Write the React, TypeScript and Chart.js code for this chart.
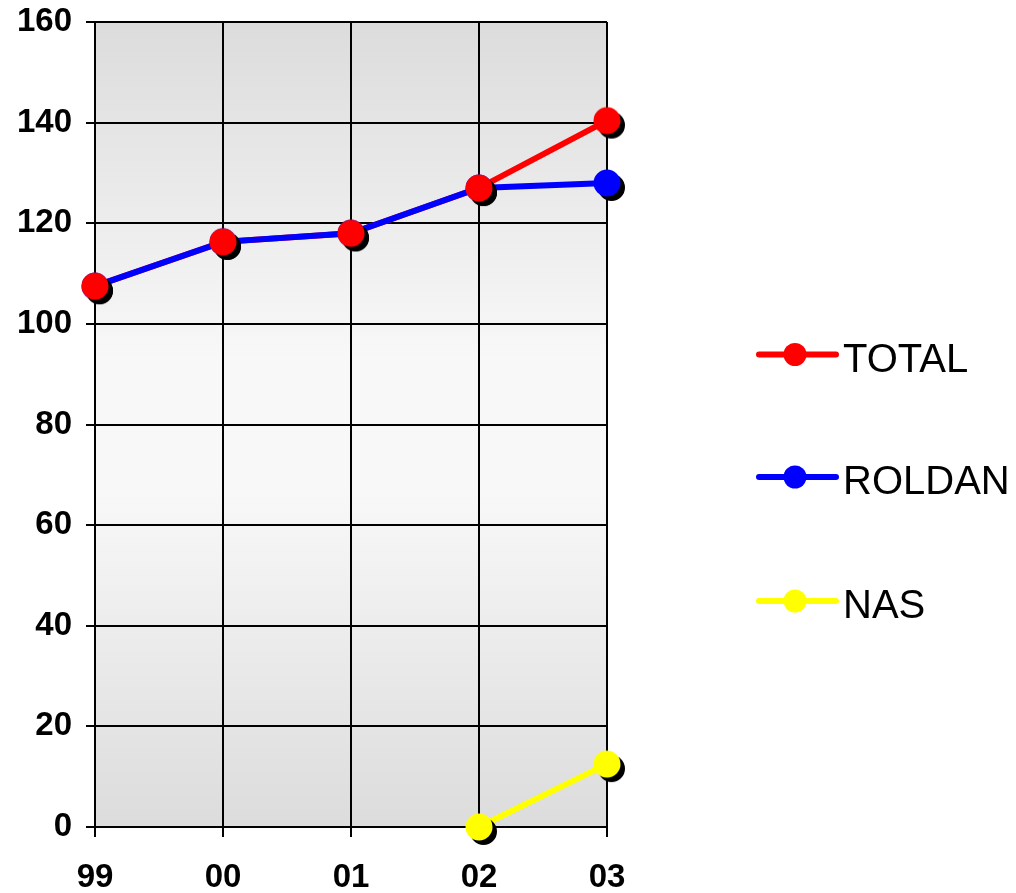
import { useEffect, useRef } from "react";
import { Chart, registerables } from "chart.js";

Chart.register(...registerables);

const years = ["99", "00", "01", "02", "03"];
const totalValues = [107.5, 116.3, 118, 127, 140.4];
const roldanValues = [107.5, 116.3, 118, 127, 128];
const nasValues: (number | null)[] = [null, null, null, 0, 12.5];
const yMin = 0;
const yMax = 160;
const yStep = 20;
const seriesNames = ["TOTAL", "ROLDAN", "NAS"];
const seriesColors = ["#ff0000", "#0000ff", "#ffff00"];

const FONT = "'Liberation Sans', Arial, sans-serif";

function makeMarker(color: string) {
  const r = 13.5;
  const off = 4.5;
  const s = Math.ceil(2 * (r + off + 1));
  const c = document.createElement("canvas");
  c.width = s;
  c.height = s;
  const ctx = c.getContext("2d")!;
  const m = s / 2;
  ctx.fillStyle = "#000000";
  ctx.beginPath();
  ctx.arc(m + off, m + off, r, 0, Math.PI * 2);
  ctx.fill();
  ctx.fillStyle = color;
  ctx.beginPath();
  ctx.arc(m, m, r, 0, Math.PI * 2);
  ctx.fill();
  return c;
}

const plotBackground = {
  id: "plotBackground",
  beforeDraw(chart: any) {
    const { ctx, chartArea } = chart;
    if (!chartArea) return;
    const g = ctx.createLinearGradient(0, chartArea.top, 0, chartArea.bottom);
    g.addColorStop(0, "#dcdcdc");
    g.addColorStop(0.42, "#f8f8f8");
    g.addColorStop(0.58, "#f8f8f8");
    g.addColorStop(1, "#dcdcdc");
    ctx.save();
    ctx.fillStyle = g;
    ctx.fillRect(chartArea.left, chartArea.top, chartArea.right - chartArea.left, chartArea.bottom - chartArea.top);
    ctx.restore();
  },
};

const customLegend = {
  id: "customLegend",
  afterDraw(chart: any) {
    const { ctx } = chart;
    const lineY = [354.5, 477, 601];
    const baseY = [372, 493.5, 618];
    ctx.save();
    seriesNames.forEach((name, i) => {
      ctx.strokeStyle = seriesColors[i];
      ctx.lineWidth = 6;
      ctx.lineCap = "round";
      ctx.beginPath();
      ctx.moveTo(759, lineY[i]);
      ctx.lineTo(836, lineY[i]);
      ctx.stroke();
      ctx.fillStyle = seriesColors[i];
      ctx.beginPath();
      ctx.arc(795, lineY[i], 11.5, 0, Math.PI * 2);
      ctx.fill();
      ctx.fillStyle = "#000000";
      ctx.font = `40px ${FONT}`;
      ctx.textAlign = "left";
      ctx.textBaseline = "alphabetic";
      ctx.fillText(name, 843, baseY[i]);
    });
    ctx.restore();
  },
};

export default function App() {
  const ref = useRef<HTMLCanvasElement | null>(null);

  useEffect(() => {
    if (!ref.current) return;
    const redMarker = makeMarker(seriesColors[0]);
    const blueMarker = makeMarker(seriesColors[1]);
    const yellowMarker = makeMarker(seriesColors[2]);
    const tickFont = { family: FONT, size: 33, weight: "bold" as const };

    const chart = new Chart(ref.current, {
      type: "line",
      data: {
        labels: years,
        datasets: [
          {
            label: seriesNames[0],
            data: totalValues,
            borderColor: seriesColors[0],
            backgroundColor: seriesColors[0],
            borderWidth: 6,
            pointRadius: 0,
            tension: 0,
            order: 4,
            clip: false,
          },
          {
            label: seriesNames[1],
            data: roldanValues,
            borderColor: seriesColors[1],
            backgroundColor: seriesColors[1],
            borderWidth: 6,
            pointStyle: blueMarker as any,
            pointRadius: 14,
            tension: 0,
            order: 3,
            clip: false,
          },
          {
            label: seriesNames[0] + " markers",
            data: totalValues,
            showLine: false,
            borderColor: seriesColors[0],
            backgroundColor: seriesColors[0],
            pointStyle: redMarker as any,
            pointRadius: 14,
            order: 2,
            clip: false,
          },
          {
            label: seriesNames[2],
            data: nasValues,
            borderColor: seriesColors[2],
            backgroundColor: seriesColors[2],
            borderWidth: 6,
            pointStyle: yellowMarker as any,
            pointRadius: 14,
            tension: 0,
            spanGaps: false,
            order: 1,
            clip: false,
          },
        ],
      },
      options: {
        responsive: false,
        animation: false,
        events: [],
        layout: { padding: { top: 22, right: 409, left: 0, bottom: 0 } },
        plugins: {
          legend: { display: false },
          tooltip: { enabled: false },
        },
        scales: {
          x: {
            type: "category",
            offset: false,
            grid: { color: "#000000", lineWidth: 2, tickLength: 10, drawTicks: true },
            border: { color: "#000000", width: 2 },
            ticks: { color: "#000000", font: tickFont, padding: 21, maxRotation: 0, autoSkip: false },
            afterFit: (s: any) => {
              s.height = 66;
              s.paddingLeft = 0;
              s.paddingRight = 0;
            },
          },
          y: {
            min: yMin,
            max: yMax,
            grid: { color: "#000000", lineWidth: 2, tickLength: 9, drawTicks: true },
            border: { color: "#000000", width: 2 },
            ticks: { color: "#000000", font: tickFont, padding: 14, stepSize: yStep },
            afterFit: (s: any) => {
              s.width = 95;
              s.paddingTop = 0;
              s.paddingBottom = 0;
            },
          },
        },
      },
      plugins: [plotBackground, customLegend],
    });
    return () => chart.destroy();
  }, []);

  return (
    <div style={{ position: "absolute", left: 0, top: 0, width: 1016, height: 893, background: "#ffffff" }}>
      <canvas ref={ref} width={1016} height={893} />
    </div>
  );
}
